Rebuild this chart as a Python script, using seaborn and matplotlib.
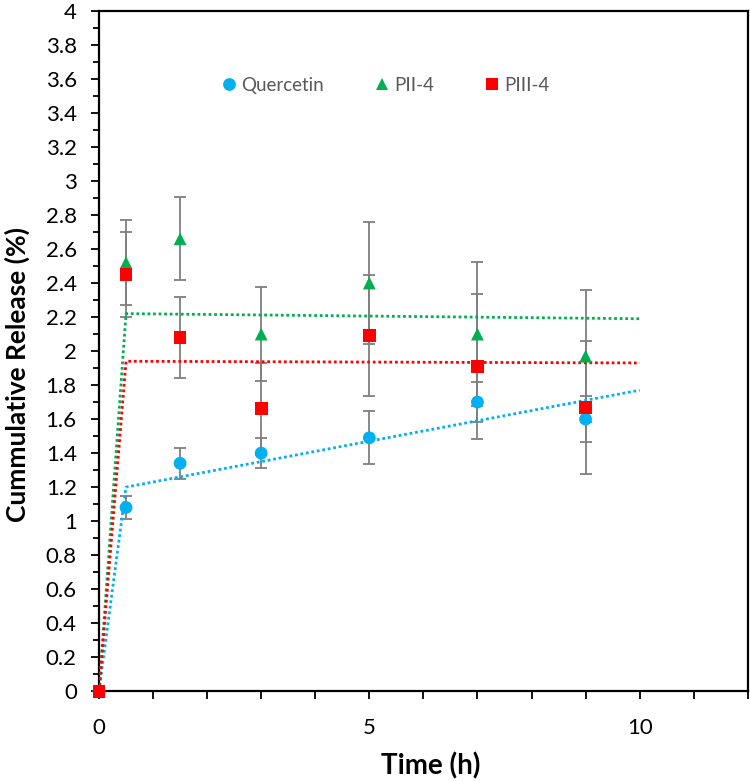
import matplotlib
matplotlib.use("Agg")
import matplotlib.pyplot as plt
from matplotlib.ticker import MultipleLocator, FuncFormatter
from matplotlib.lines import Line2D
import seaborn as sns
import pandas as pd
import numpy as np

# ---- data ----
time = [0, 0.5, 1.5, 3, 5, 7, 9]
quercetin = [0, 1.08, 1.34, 1.40, 1.49, 1.70, 1.60]
quercetin_err = [0, 0.07, 0.09, 0.09, 0.155, 0.12, 0.135]
pii4 = [0, 2.52, 2.66, 2.10, 2.40, 2.10, 1.97]
pii4_err = [0, 0.25, 0.245, 0.275, 0.36, 0.425, 0.39]
piii4 = [0, 2.45, 2.08, 1.66, 2.09, 1.91, 1.67]
piii4_err = [0, 0.25, 0.24, 0.27, 0.355, 0.427, 0.39]

# fitted (trend) curves
fit_time = [0, 0.5, 10]
fit_quercetin = [0, 1.20, 1.77]
fit_pii4 = [0, 2.22, 2.19]
fit_piii4 = [0, 1.94, 1.93]

series_names = ["Quercetin", "PII-4", "PIII-4"]
colors = {"Quercetin": "#00B0F0", "PII-4": "#00B050", "PIII-4": "#FF0000"}
markers = {"Quercetin": "o", "PII-4": "^", "PIII-4": "s"}

sns.set_theme(style="white")
plt.rcParams["font.family"] = ["Lato", "DejaVu Sans"]

fig = plt.figure(figsize=(7.5, 7.81), dpi=100)
ax = fig.add_axes([0.132, 0.115, 0.865, 0.871])

vals = {"Quercetin": (quercetin, quercetin_err, fit_quercetin),
        "PII-4": (pii4, pii4_err, fit_pii4),
        "PIII-4": (piii4, piii4_err, fit_piii4)}

# error bars
for name in series_names:
    y, e, _ = vals[name]
    ax.errorbar(time, y, yerr=e, fmt="none", ecolor="#7F7F7F", elinewidth=1.3,
                capsize=4.2, capthick=1.3, zorder=2, clip_on=False)

# trend lines
for name in series_names:
    _, _, f = vals[name]
    df_fit = pd.DataFrame({"t": fit_time, "v": f})
    sns.lineplot(data=df_fit, x="t", y="v", ax=ax, color=colors[name], sort=False,
                 linewidth=2.0, linestyle=(0, (1, 1)), zorder=3, estimator=None)

# markers
long = pd.concat([pd.DataFrame({"Time": time, "Release": vals[n][0], "Series": n})
                  for n in series_names], ignore_index=True)
sns.scatterplot(data=long, x="Time", y="Release", hue="Series", style="Series",
                palette=colors, markers=markers, s=85, linewidth=0, ax=ax,
                zorder=4, clip_on=False, legend=False)

ax.set_xlim(0, 12)
ax.set_ylim(0, 4)
ax.xaxis.set_major_locator(MultipleLocator(5))
ax.xaxis.set_minor_locator(MultipleLocator(1))
ax.yaxis.set_major_locator(MultipleLocator(0.2))
ax.yaxis.set_minor_locator(MultipleLocator(0.1))
ax.yaxis.set_major_formatter(FuncFormatter(lambda v, p: f"{v:.1f}".rstrip("0").rstrip(".") if abs(v) > 1e-9 else "0"))

ax.tick_params(axis="both", which="major", direction="out", length=6, width=1.3,
               color="black", labelsize=16, labelcolor="black", pad=10,
               bottom=True, left=True)
ax.tick_params(axis="both", which="minor", direction="out", length=4, width=1.3,
               color="black", bottom=True, left=True)
ax.tick_params(axis="x", which="major", length=6, pad=13)
ax.tick_params(axis="x", which="minor", length=6)

for sp in ax.spines.values():
    sp.set_color("black")
    sp.set_linewidth(1.6)
    sp.set_visible(True)

ax.set_xlabel("Time (h)", fontsize=20, fontweight="bold", color="black")
ax.set_ylabel("Cummulative Release (%)", fontsize=19, fontweight="bold", color="black")
ax.xaxis.set_label_coords(0.512, -0.09)
ax.yaxis.set_label_coords(-0.106, 0.466)
ax.grid(False)

handles = [Line2D([], [], linestyle="none", marker=markers[n], color=colors[n],
                  markersize=9.2, markeredgewidth=0) for n in series_names]
leg = ax.legend(handles, series_names, loc="center", bbox_to_anchor=(0.44, 0.891),
                ncol=3, frameon=False, fontsize=13.5, handletextpad=0.15,
                columnspacing=2.6, handlelength=1.0, labelcolor="#595959")

fig.savefig("out.png", dpi=100)
